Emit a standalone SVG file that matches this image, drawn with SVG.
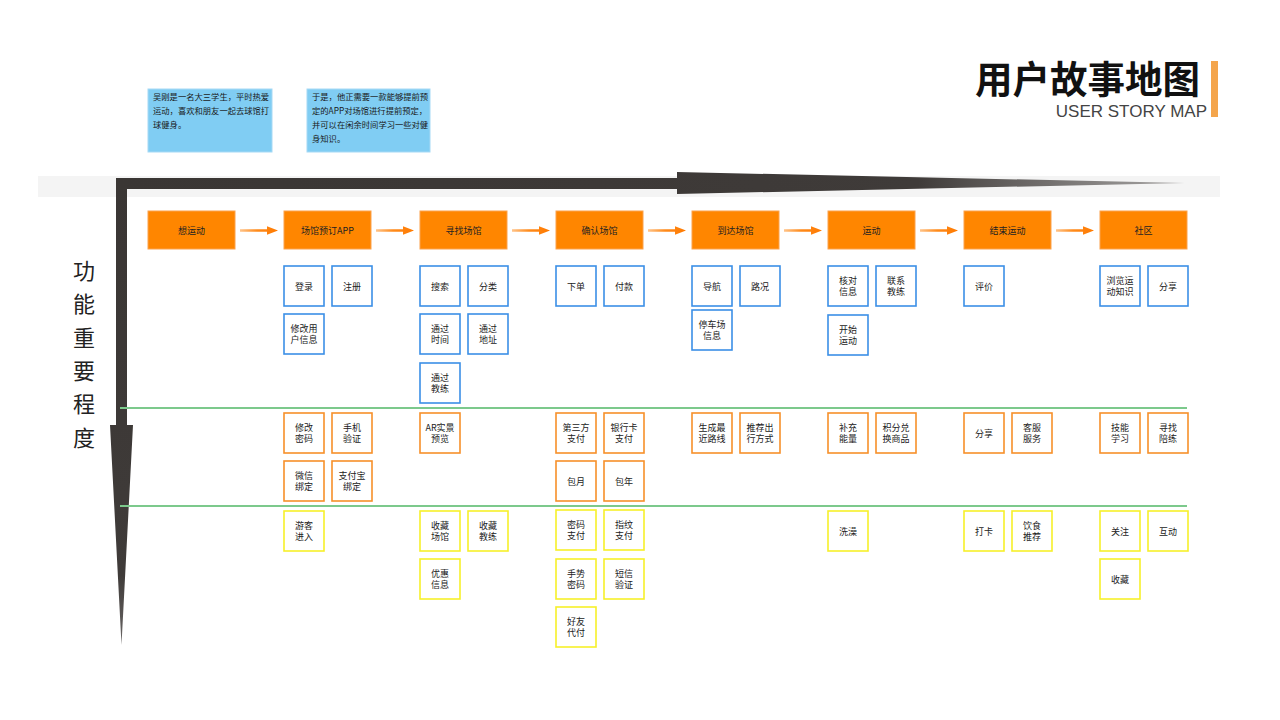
<svg xmlns="http://www.w3.org/2000/svg" width="1280" height="720" viewBox="0 0 1280 720">
<defs>
<style>
.t{font-family:"Noto Sans CJK SC","Liberation Sans",sans-serif;font-size:9px;fill:#222;text-anchor:middle}
.n{font-family:"Noto Sans CJK SC","Liberation Sans",sans-serif;font-size:8.3px;fill:#1a1a1a}
.hd rect{fill:#ff8600;stroke:#fba24c;stroke-width:1}
.b rect{fill:#fff;stroke:#3b8fe6;stroke-width:1.6}
.o rect{fill:#fff;stroke:#f7902a;stroke-width:1.6}
.y rect{fill:#fff;stroke:#f7f02a;stroke-width:1.6}
.note{fill:#80cdf3;stroke:#a6d9f5;stroke-width:1}
.flow{fill:url(#fg)}
.grn{stroke:#7cc98c;stroke-width:2}
</style>
<linearGradient id="fg" x1="0" y1="0" x2="1" y2="0">
<stop offset="0" stop-color="#ffc48a"/>
<stop offset="0.45" stop-color="#ff8a1a"/>
<stop offset="1" stop-color="#ff7a00"/>
</linearGradient>
<linearGradient id="hg" x1="0" y1="0" x2="1" y2="0">
<stop offset="0" stop-color="#3a3634"/>
<stop offset="0.75" stop-color="#3f3b39"/>
<stop offset="1" stop-color="#a9a7a6"/>
</linearGradient>
<linearGradient id="vg" x1="0" y1="0" x2="0" y2="1">
<stop offset="0" stop-color="#3a3634"/>
<stop offset="0.85" stop-color="#3f3b39"/>
<stop offset="1" stop-color="#6a6766"/>
</linearGradient>
</defs>
<rect width="1280" height="720" fill="#fff"/>

<g id="title">
<text x="975" y="93" font-family="'Noto Sans CJK SC',sans-serif" font-size="37.5" font-weight="bold" fill="#111">用户故事地图</text>
<text x="1207" y="117" font-family="'Liberation Sans',Arial,sans-serif" font-size="17" fill="#444" text-anchor="end">USER STORY MAP</text>
<rect x="1211" y="61" width="7" height="56" fill="#f4a54c"/>
</g>

<g id="note1">
<rect class="note" x="148" y="89" width="124" height="63"/>
<text class="n" x="153" y="100">吴刚是一名大三学生，平时热爱</text>
<text class="n" x="153" y="114">运动，喜欢和朋友一起去球馆打</text>
<text class="n" x="153" y="127.5">球健身。</text>
</g>
<g id="note2">
<rect class="note" x="307" y="89" width="123" height="63"/>
<text class="n" x="312" y="100">于是，他正需要一款能够提前预</text>
<text class="n" x="312" y="114">定的APP对场馆进行提前预定，</text>
<text class="n" x="312" y="127.5">并可以在闲余时间学习一些对健</text>
<text class="n" x="312" y="141.5">身知识。</text>
</g>

<g id="axes">
<rect x="38" y="176" width="1182" height="21" fill="#f4f4f4"/>
<path d="M116,178 L677,178 L677,172 L1185,183 L677,194 L677,189 L127,189 Z" fill="url(#hg)"/>
<path d="M116,178 L127,178 L127,425 L133,425 L121.5,645 L110,425 L116,425 Z" fill="url(#vg)"/>
<g font-family="'Noto Sans CJK SC',sans-serif" font-size="22" fill="#222" text-anchor="middle">
<text x="84" y="279">功</text>
<text x="84" y="312">能</text>
<text x="84" y="346">重</text>
<text x="84" y="379">要</text>
<text x="84" y="412">程</text>
<text x="84" y="446">度</text>
</g>
</g>

<g id="dividers">
<line class="grn" x1="120" y1="408" x2="1187" y2="408"/>
<line class="grn" x1="120" y1="506" x2="1187" y2="506"/>
</g>

<g id="connectors">
<path class="flow" d="M240,229.3 h27 v-3 l11,4.2 l-11,4.2 v-3 h-27 z"/>
<path class="flow" d="M376,229.3 h27 v-3 l11,4.2 l-11,4.2 v-3 h-27 z"/>
<path class="flow" d="M512,229.3 h27 v-3 l11,4.2 l-11,4.2 v-3 h-27 z"/>
<path class="flow" d="M648,229.3 h27 v-3 l11,4.2 l-11,4.2 v-3 h-27 z"/>
<path class="flow" d="M784,229.3 h27 v-3 l11,4.2 l-11,4.2 v-3 h-27 z"/>
<path class="flow" d="M920,229.3 h27 v-3 l11,4.2 l-11,4.2 v-3 h-27 z"/>
<path class="flow" d="M1056,229.3 h27 v-3 l11,4.2 l-11,4.2 v-3 h-27 z"/>
</g>

<g id="h1" class="hd"><rect x="148" y="211" width="87" height="38"/><text class="t" x="191.5" y="233.5">想运动</text></g>
<g id="h2" class="hd"><rect x="284" y="211" width="87" height="38"/><text class="t" x="327.5" y="233.5">场馆预订APP</text></g>
<g id="h3" class="hd"><rect x="420" y="211" width="87" height="38"/><text class="t" x="463.5" y="233.5">寻找场馆</text></g>
<g id="h4" class="hd"><rect x="556" y="211" width="87" height="38"/><text class="t" x="599.5" y="233.5">确认场馆</text></g>
<g id="h5" class="hd"><rect x="692" y="211" width="87" height="38"/><text class="t" x="735.5" y="233.5">到达场馆</text></g>
<g id="h6" class="hd"><rect x="828" y="211" width="87" height="38"/><text class="t" x="871.5" y="233.5">运动</text></g>
<g id="h7" class="hd"><rect x="964" y="211" width="87" height="38"/><text class="t" x="1007.5" y="233.5">结束运动</text></g>
<g id="h8" class="hd"><rect x="1100" y="211" width="87" height="38"/><text class="t" x="1143.5" y="233.5">社区</text></g>

<!-- column 2 -->
<g id="b-denglu" class="b"><rect x="284" y="266" width="40" height="40"/><text class="t" x="304" y="289.5">登录</text></g>
<g id="b-zhuce" class="b"><rect x="332" y="266" width="40" height="40"/><text class="t" x="352" y="289.5">注册</text></g>
<g id="b-xiugaiyonghu" class="b"><rect x="284" y="314" width="40" height="40"/><text class="t" x="304" y="332">修改用</text><text class="t" x="304" y="343">户信息</text></g>
<g id="o-xiugaimima" class="o"><rect x="284" y="413" width="40" height="40"/><text class="t" x="304" y="431">修改</text><text class="t" x="304" y="442">密码</text></g>
<g id="o-shoujiyanzheng" class="o"><rect x="332" y="413" width="40" height="40"/><text class="t" x="352" y="431">手机</text><text class="t" x="352" y="442">验证</text></g>
<g id="o-weixin" class="o"><rect x="284" y="461" width="40" height="40"/><text class="t" x="304" y="479">微信</text><text class="t" x="304" y="490">绑定</text></g>
<g id="o-zhifubao" class="o"><rect x="332" y="461" width="40" height="40"/><text class="t" x="352" y="479">支付宝</text><text class="t" x="352" y="490">绑定</text></g>
<g id="y-youke" class="y"><rect x="284" y="511" width="40" height="40"/><text class="t" x="304" y="529">游客</text><text class="t" x="304" y="540">进入</text></g>

<!-- column 3 -->
<g id="b-sousuo" class="b"><rect x="420" y="266" width="40" height="40"/><text class="t" x="440" y="289.5">搜索</text></g>
<g id="b-fenlei" class="b"><rect x="468" y="266" width="40" height="40"/><text class="t" x="488" y="289.5">分类</text></g>
<g id="b-shijian" class="b"><rect x="420" y="314" width="40" height="40"/><text class="t" x="440" y="332">通过</text><text class="t" x="440" y="343">时间</text></g>
<g id="b-dizhi" class="b"><rect x="468" y="314" width="40" height="40"/><text class="t" x="488" y="332">通过</text><text class="t" x="488" y="343">地址</text></g>
<g id="b-jiaolian" class="b"><rect x="420" y="363" width="40" height="40"/><text class="t" x="440" y="381">通过</text><text class="t" x="440" y="392">教练</text></g>
<g id="o-ar" class="o"><rect x="420" y="413" width="40" height="40"/><text class="t" x="440" y="431">AR实景</text><text class="t" x="440" y="442">预览</text></g>
<g id="y-shoucangchangguan" class="y"><rect x="420" y="511" width="40" height="40"/><text class="t" x="440" y="529">收藏</text><text class="t" x="440" y="540">场馆</text></g>
<g id="y-shoucangjiaolian" class="y"><rect x="468" y="511" width="40" height="40"/><text class="t" x="488" y="529">收藏</text><text class="t" x="488" y="540">教练</text></g>
<g id="y-youhui" class="y"><rect x="420" y="559" width="40" height="40"/><text class="t" x="440" y="577">优惠</text><text class="t" x="440" y="588">信息</text></g>

<!-- column 4 -->
<g id="b-xiadan" class="b"><rect x="556" y="266" width="40" height="40"/><text class="t" x="576" y="289.5">下单</text></g>
<g id="b-fukuan" class="b"><rect x="604" y="266" width="40" height="40"/><text class="t" x="624" y="289.5">付款</text></g>
<g id="o-disanfang" class="o"><rect x="556" y="413" width="40" height="40"/><text class="t" x="576" y="431">第三方</text><text class="t" x="576" y="442">支付</text></g>
<g id="o-yinhangka" class="o"><rect x="604" y="413" width="40" height="40"/><text class="t" x="624" y="431">银行卡</text><text class="t" x="624" y="442">支付</text></g>
<g id="o-baoyue" class="o"><rect x="556" y="461" width="40" height="40"/><text class="t" x="576" y="484.5">包月</text></g>
<g id="o-baonian" class="o"><rect x="604" y="461" width="40" height="40"/><text class="t" x="624" y="484.5">包年</text></g>
<g id="y-mimazhifu" class="y"><rect x="556" y="510" width="40" height="40"/><text class="t" x="576" y="528">密码</text><text class="t" x="576" y="539">支付</text></g>
<g id="y-zhiwen" class="y"><rect x="604" y="510" width="40" height="40"/><text class="t" x="624" y="528">指纹</text><text class="t" x="624" y="539">支付</text></g>
<g id="y-shoushi" class="y"><rect x="556" y="559" width="40" height="40"/><text class="t" x="576" y="577">手势</text><text class="t" x="576" y="588">密码</text></g>
<g id="y-duanxin" class="y"><rect x="604" y="559" width="40" height="40"/><text class="t" x="624" y="577">短信</text><text class="t" x="624" y="588">验证</text></g>
<g id="y-haoyou" class="y"><rect x="556" y="607" width="40" height="40"/><text class="t" x="576" y="625">好友</text><text class="t" x="576" y="636">代付</text></g>

<!-- column 5 -->
<g id="b-daohang" class="b"><rect x="692" y="266" width="40" height="40"/><text class="t" x="712" y="289.5">导航</text></g>
<g id="b-lukuang" class="b"><rect x="740" y="266" width="40" height="40"/><text class="t" x="760" y="289.5">路况</text></g>
<g id="b-tingche" class="b"><rect x="692" y="310" width="40" height="40"/><text class="t" x="712" y="328">停车场</text><text class="t" x="712" y="339">信息</text></g>
<g id="o-luxian" class="o"><rect x="692" y="413" width="40" height="40"/><text class="t" x="712" y="431">生成最</text><text class="t" x="712" y="442">近路线</text></g>
<g id="o-chuxing" class="o"><rect x="740" y="413" width="40" height="40"/><text class="t" x="760" y="431">推荐出</text><text class="t" x="760" y="442">行方式</text></g>

<!-- column 6 -->
<g id="b-hedui" class="b"><rect x="828" y="266" width="40" height="40"/><text class="t" x="848" y="284">核对</text><text class="t" x="848" y="295">信息</text></g>
<g id="b-lianxi" class="b"><rect x="876" y="266" width="40" height="40"/><text class="t" x="896" y="284">联系</text><text class="t" x="896" y="295">教练</text></g>
<g id="b-kaishi" class="b"><rect x="828" y="315" width="40" height="40"/><text class="t" x="848" y="333">开始</text><text class="t" x="848" y="344">运动</text></g>
<g id="o-buchong" class="o"><rect x="828" y="413" width="40" height="40"/><text class="t" x="848" y="431">补充</text><text class="t" x="848" y="442">能量</text></g>
<g id="o-jifen" class="o"><rect x="876" y="413" width="40" height="40"/><text class="t" x="896" y="431">积分兑</text><text class="t" x="896" y="442">换商品</text></g>
<g id="y-xizao" class="y"><rect x="828" y="511" width="40" height="40"/><text class="t" x="848" y="534.5">洗澡</text></g>

<!-- column 7 -->
<g id="b-pingjia" class="b"><rect x="964" y="266" width="40" height="40"/><text class="t" x="984" y="289.5">评价</text></g>
<g id="o-fenxiang" class="o"><rect x="964" y="413" width="40" height="40"/><text class="t" x="984" y="436.5">分享</text></g>
<g id="o-kefu" class="o"><rect x="1012" y="413" width="40" height="40"/><text class="t" x="1032" y="431">客服</text><text class="t" x="1032" y="442">服务</text></g>
<g id="y-daka" class="y"><rect x="964" y="511" width="40" height="40"/><text class="t" x="984" y="534.5">打卡</text></g>
<g id="y-yinshi" class="y"><rect x="1012" y="511" width="40" height="40"/><text class="t" x="1032" y="529">饮食</text><text class="t" x="1032" y="540">推荐</text></g>

<!-- column 8 -->
<g id="b-liulan" class="b"><rect x="1100" y="266" width="40" height="40"/><text class="t" x="1120" y="284">浏览运</text><text class="t" x="1120" y="295">动知识</text></g>
<g id="b-fenxiang" class="b"><rect x="1148" y="266" width="40" height="40"/><text class="t" x="1168" y="289.5">分享</text></g>
<g id="o-jineng" class="o"><rect x="1100" y="413" width="40" height="40"/><text class="t" x="1120" y="431">技能</text><text class="t" x="1120" y="442">学习</text></g>
<g id="o-peilian" class="o"><rect x="1148" y="413" width="40" height="40"/><text class="t" x="1168" y="431">寻找</text><text class="t" x="1168" y="442">陪练</text></g>
<g id="y-guanzhu" class="y"><rect x="1100" y="511" width="40" height="40"/><text class="t" x="1120" y="534.5">关注</text></g>
<g id="y-hudong" class="y"><rect x="1148" y="511" width="40" height="40"/><text class="t" x="1168" y="534.5">互动</text></g>
<g id="y-shoucang" class="y"><rect x="1100" y="559" width="40" height="40"/><text class="t" x="1120" y="582.5">收藏</text></g>
</svg>
